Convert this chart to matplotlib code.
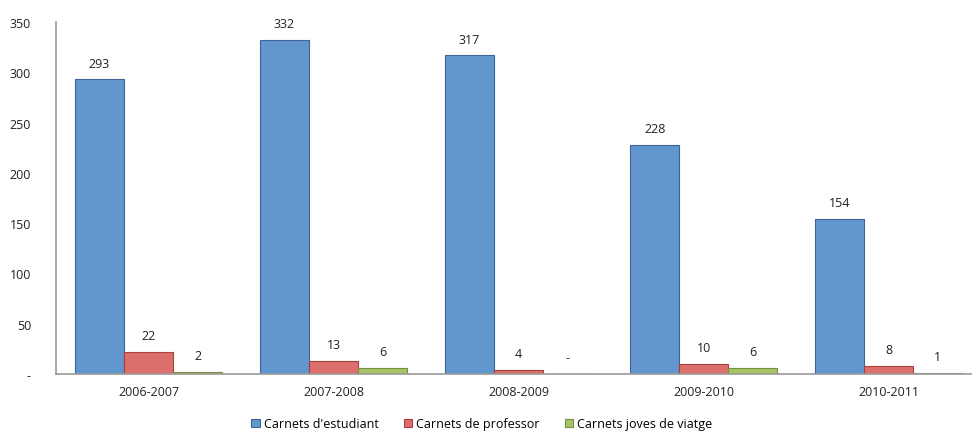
import numpy as np
import matplotlib.pyplot as plt

years = ['2006-2007', '2007-2008', '2008-2009', '2009-2010', '2010-2011']
estudiant = [293, 332, 317, 228, 154]
professor = [22, 13, 4, 10, 8]
joves = [2, 6, 0, 6, 1]
series = ["Carnets d'estudiant", 'Carnets de professor', 'Carnets joves de viatge']
yticks = [0, 50, 100, 150, 200, 250, 300, 350]
ytick_labels = ['-', '50', '100', '150', '200', '250', '300', '350']

plt.rcParams['font.family'] = ['Open Sans', 'DejaVu Sans']

fig = plt.figure(figsize=(9.72, 4.35), dpi=100)
ax = fig.add_axes([0.0576, 0.138, 0.9424, 0.809])

x = np.arange(len(years))
w = 0.265
colors = ['#6296cf', '#dc6e6b', '#a6c466']
edges = ['#3c6596', '#a8403d', '#76913f']
for k, (vals, col, ec) in enumerate(zip([estudiant, professor, joves], colors, edges)):
    bars = ax.bar(x + (k - 1) * w, vals, w, color=col, edgecolor=ec, linewidth=0.8,
                  label=series[k])
    for b, v in zip(bars, vals):
        ax.annotate('-' if v == 0 else str(v), (b.get_x() + b.get_width() / 2, v),
                    xytext=(0, 7), textcoords='offset points', ha='center', va='bottom',
                    fontsize=9, color='#222222')

ax.set_xlim(-0.5, 4.45)
ax.set_ylim(0, 350)
ax.set_yticks(yticks)
ax.set_yticklabels(ytick_labels)
ax.set_xticks(x)
ax.set_xticklabels(years)
ax.tick_params(length=0, labelsize=9, colors='#222222')
ax.tick_params(axis='x', pad=8)
ax.tick_params(axis='y', pad=18)
for s in ['top', 'right']:
    ax.spines[s].set_visible(False)
for s in ['left', 'bottom']:
    ax.spines[s].set_color('#9a9a9a')
    ax.spines[s].set_linewidth(1.2)

ax.legend(loc='center', bbox_to_anchor=(0.465, -0.142), ncol=3, frameon=False,
          fontsize=9, handlelength=0.7, handleheight=0.7, handletextpad=0.3,
          columnspacing=2.0)

fig.savefig('out.png', dpi=100)
